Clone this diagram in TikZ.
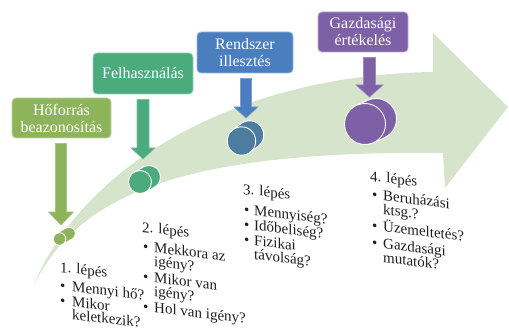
\documentclass[tikz,border=0pt]{standalone}
\usepackage{fontspec}
\setmainfont{Liberation Serif}
\usetikzlibrary{calc}
\definecolor{band}{HTML}{D7E4CC}
\definecolor{gA}{HTML}{8DB45A}
\definecolor{gB}{HTML}{4BAB7D}
\definecolor{bC}{HTML}{4A7EBF}
\definecolor{bCc}{HTML}{4C7C9F}
\definecolor{pD}{HTML}{7E60A6}
\definecolor{txt}{HTML}{1E1E1E}
\tikzset{
 box/.style={rounded corners=4pt, draw=#1!55!white, line width=0.8pt, fill=#1, text=white,
   align=center, font=\fontsize{16}{17}\selectfont, inner sep=0pt},
 lst/.style={anchor=base west, inner sep=0pt, font=\fontsize{15}{16}\selectfont, text=txt, transform shape},
 lslant/.style={yslant=-0.12},
}
\newcommand\blkarrow[6]{%
 \path let \p1=(#2.south), \p2=(#3) in [fill=#1, draw=#1!75!white, line width=0.6pt]
 (\x2-#4pt,\y1-5pt) -- (\x2+#4pt,\y1-5pt) -- (\x2+#4pt,\y2+#6pt) -- (\x2+#5pt,\y2+#6pt)
 -- (\x2,\y2) -- (\x2-#5pt,\y2+#6pt) -- (\x2-#4pt,\y2+#6pt) -- cycle;}
\newcommand\coin[5]{% name, front, back, radius, colour
 \coordinate (#1f) at #2; \coordinate (#1b) at #3;
 \fill[#5, draw=white, line width=0.9pt] (#1b) circle (#4);
 \fill[#5] ($(#1f)!#4pt!90:(#1b)$) -- ($(#1b)!#4pt!-90:(#1f)$) -- ($(#1b)!#4pt!90:(#1f)$) -- ($(#1f)!#4pt!-90:(#1b)$) -- cycle;
 \draw[white, line width=0.9pt] ($(#1f)!#4pt!90:(#1b)$) -- ($(#1b)!#4pt!-90:(#1f)$)
   ($(#1b)!#4pt!90:(#1f)$) -- ($(#1f)!#4pt!-90:(#1b)$);
 \fill[#5, draw=white, line width=0.9pt] (#1f) circle (#4);}
\begin{document}
\begin{tikzpicture}[x=1pt,y=-1pt]
\useasboundingbox (0,0) rectangle (509,331);
% big curved arrow
\fill[band] (33,287) .. controls (80,170) and (230,75) .. (433,72) -- (433,33) -- (508,107)
  -- (445,188) -- (443,153) .. controls (170,150) and (75,200) .. (33,287) -- cycle;
% boxes
\node[box=gA, minimum width=99pt, minimum height=40pt] (b1) at (61.5,118) {Hőforrás\\beazonosítás};
\node[box=gB, minimum width=100pt, minimum height=41pt] (b2) at (143,73.5) {Felhasználás};
\node[box=bC, minimum width=96pt, minimum height=41pt] (b3) at (245,52.5) {Rendszer\\illesztés};
\node[box=pD, minimum width=90pt, minimum height=40pt] (b4) at (363,32) {Gazdasági\\értékelés};
% tips
\coordinate (t1) at (61,225);
\coordinate (t2) at (143,159);
\coordinate (t3) at (246,118);
\coordinate (t4) at (369.5,97);
\blkarrow{gA}{b1}{t1}{5.5}{12.5}{13}
\blkarrow{gB}{b2}{t2}{6}{12}{11}
\blkarrow{bC}{b3}{t3}{5.5}{12}{11}
\blkarrow{pD}{b4}{t4}{6}{13.5}{12}
% coins
\coin{c1}{(59.5,239)}{(69,233.5)}{6.3}{gA}
\coin{c2}{(140,182)}{(149,177)}{11.5}{gB}
\coin{c3}{(241.5,141)}{(249.5,135)}{14.2}{bCc}
\coin{c4}{(365,124)}{(376,119)}{20.5}{pD}
% lists
\begin{scope}[shift={(60,272)}, lslant]
 \node[lst] (l1h) at (0,0) {1. lépés};
 \node[lst] at (0,18) {•}; \node[lst] (l1a) at (12,18) {Mennyi hő?};
 \node[lst] at (0,33) {•}; \node[lst] (l1b) at (12,33) {Mikor};
 \node[lst] (l1c) at (12,46) {keletkezik?};
\end{scope}
\begin{scope}[shift={(142,232)}, lslant]
 \node[lst] (l2h) at (0,0) {2. lépés};
 \node[lst] at (1,19) {•}; \node[lst] (l2a) at (12,19) {Mekkora az};
 \node[lst] (l2b) at (12,33) {igény?};
 \node[lst] at (1,49) {•}; \node[lst] (l2c) at (12,49) {Mikor van};
 \node[lst] (l2d) at (12,63) {igény?};
 \node[lst] at (1,79) {•}; \node[lst] (l2e) at (12,79) {Hol van igény?};
\end{scope}
\begin{scope}[shift={(243,194)}, lslant]
 \node[lst] (l3h) at (0,0) {3. lépés};
 \node[lst] at (1,20) {•}; \node[lst] (l3a) at (11,20) {Mennyiség?};
 \node[lst] at (1,35) {•}; \node[lst] (l3b) at (11,35) {Időbeliség?};
 \node[lst] at (1,50) {•}; \node[lst] (l3c) at (11,50) {Fizikai};
 \node[lst] (l3d) at (11,64) {távolság?};
\end{scope}
\begin{scope}[shift={(370,181)}, lslant]
 \node[lst] (l4h) at (0,0) {4. lépés};
 \node[lst] at (2,18) {•}; \node[lst] (l4a) at (13,18) {Beruházási};
 \node[lst] (l4b) at (13,32) {ktsg.?};
 \node[lst] at (2,49) {•}; \node[lst] (l4c) at (13,49) {Üzemeltetés?};
 \node[lst] at (2,66) {•}; \node[lst] (l4d) at (13,66) {Gazdasági};
 \node[lst] (l4e) at (13,80) {mutatók?};
\end{scope}
\end{tikzpicture}
\end{document}
